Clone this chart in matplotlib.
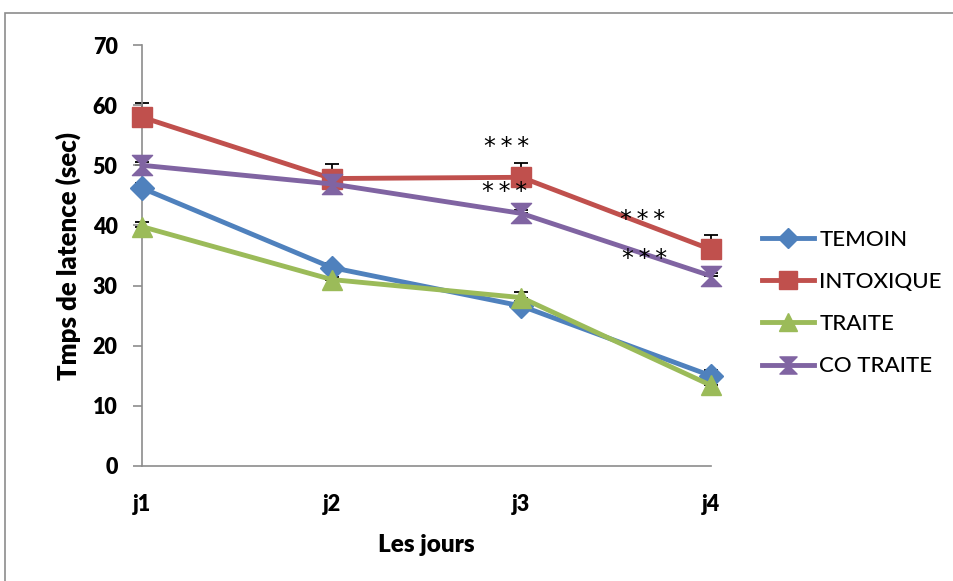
import matplotlib
matplotlib.use("Agg")
import matplotlib.pyplot as plt
from matplotlib.path import Path
from matplotlib.patches import Rectangle
import numpy as np

plt.rcParams["font.family"] = ["Lato", "DejaVu Sans"]

days = ["j1", "j2", "j3", "j4"]
temoin = [46.2, 33.0, 26.6, 15.0]
intoxique = [58.0, 47.8, 48.0, 36.0]
traite = [39.8, 31.0, 28.0, 13.4]
co_traite = [50.0, 46.9, 42.0, 31.6]

err_temoin = [0.8, 0.8, 0.8, 1.0]
err_intoxique = [2.4, 2.4, 2.4, 2.4]
err_traite = [0.8, 0.5, 1.0, 0.5]
err_co_traite = [0.5, 0.5, 0.5, 0.5]

sig_labels = ["*\u2009*\u2009*"] * 4
sig_pos = [(1.92, 53.0), (1.91, 45.6), (2.64, 40.9), (2.65, 34.4)]

series_names = ["TEMOIN", "INTOXIQUE", "TRAITE", "CO TRAITE"]

hourglass = Path([(-1, 1), (1, 1), (-1, -1), (1, -1), (-1, 1)],
                 [Path.MOVETO, Path.LINETO, Path.LINETO, Path.LINETO, Path.CLOSEPOLY])

colors = ["#4F81BD", "#C0504D", "#9BBB59", "#8064A2"]
markers = ["D", "s", "^", hourglass]
msizes = [12, 14.5, 15, 14.5]

fig = plt.figure(figsize=(9.54, 5.81), dpi=100)
fig.patches.append(Rectangle((5 / 954, -0.1), 1.2, 1.1 - 13 / 581, transform=fig.transFigure,
                             fill=False, edgecolor="#8c8c8c", linewidth=1.2))
ax = fig.add_axes([142 / 954, 1 - 466 / 581, (711 - 142) / 954, (466 - 45) / 581])

x = np.arange(len(days))
all_vals = [temoin, intoxique, traite, co_traite]
all_errs = [err_temoin, err_intoxique, err_traite, err_co_traite]

for vals, errs in zip(all_vals, all_errs):
    ax.errorbar(x, vals, yerr=[np.zeros(len(errs)), errs], fmt="none", ecolor="black",
                elinewidth=1.3, capsize=5, capthick=1.3, zorder=1, clip_on=False)

for name, vals, c, m, ms in zip(series_names, all_vals, colors, markers, msizes):
    ax.plot(x, vals, color=c, linewidth=3.5, marker=m, markersize=ms,
            markerfacecolor=c, markeredgecolor=c, label=name, zorder=3, clip_on=False)

for lab, (px, py) in zip(sig_labels, sig_pos):
    ax.text(px, py, lab, ha="center", va="center", fontsize=17, family="DejaVu Sans",
            fontweight="normal", zorder=5)

ax.set_xlim(0, 3)
ax.set_ylim(0, 70)
ax.set_xticks(x)
ax.set_xticklabels(days, fontsize=15.5, fontweight="heavy", family="Lato")
ax.set_yticks(range(0, 71, 10), labels=[str(v) for v in range(0, 71, 10)],
              fontsize=15.5, fontweight="heavy", family="Lato")
for s in ["top", "right"]:
    ax.spines[s].set_visible(False)
for s in ["left", "bottom"]:
    ax.spines[s].set_color("#8c8c8c")
    ax.spines[s].set_linewidth(1.2)
ax.tick_params(axis="y", direction="out", length=6.5, color="#8c8c8c", width=1.2, pad=11)
ax.tick_params(axis="x", length=0, pad=20)

ax.set_ylabel("Tmps de latence (sec)", fontsize=18.5, fontweight="heavy", family="Lato",
              ha="center", va="center")
ax.yaxis.set_label_coords((68 - 142) / 569, 0.5)
ax.set_xlabel("Les jours", fontsize=17.5, fontweight="heavy", family="Lato",
              ha="center", va="center")
ax.xaxis.set_label_coords((426 - 142) / 569, (466 - 545) / 421)

leg = ax.legend(loc="center left", bbox_to_anchor=(762 / 954, 1 - 303 / 581),
                bbox_transform=fig.transFigure, frameon=False,
                prop={"family": "Lato", "size": 16, "weight": "medium"},
                handlelength=2.36, handletextpad=0.22, labelspacing=1.0, borderaxespad=0,
                borderpad=0, markerscale=0.85)

fig.savefig("out.png", dpi=100)
